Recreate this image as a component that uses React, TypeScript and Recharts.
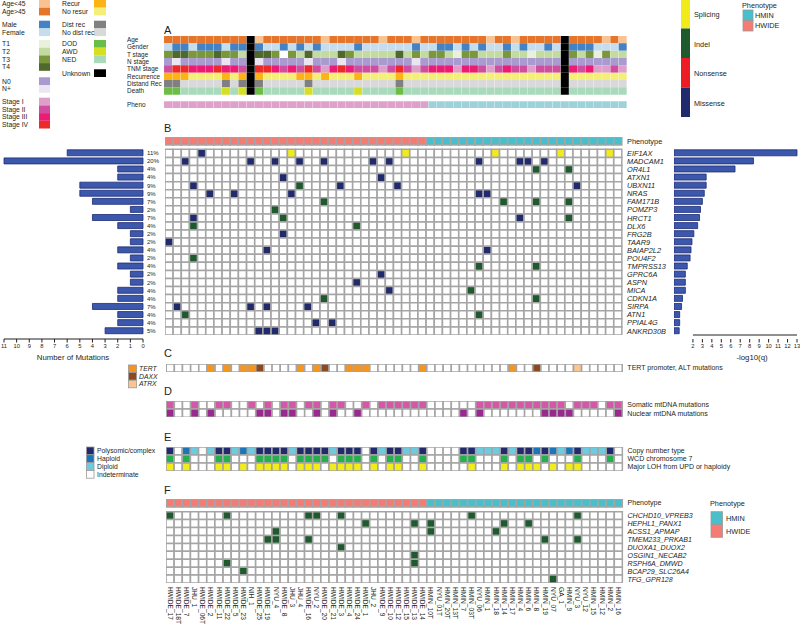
import React from 'react';
import { BarChart, Bar, Cell, XAxis, YAxis, ReferenceArea } from 'recharts';

const FONT = '"Liberation Sans", Arial, Helvetica, sans-serif';
const INK = '#231f20';
const GRID_STROKE = '#a5a5a5';
const BAR_FILL = '#3c58ad';
const BAR_EDGE = '#1e2b72';

// samples, left to right
const samples = [
  'HWIDE_17', 'HWIDE_18T', 'HWIDE_7', 'JHU_1', 'HWIDE_06T', 'HWIDE_2', 'HWIDE_11', 'HWIDE_22',
  'HWIDE_5', 'HWIDE_23', 'NIH_1', 'HWIDE_25', 'HWIDE_19', 'NYU_4', 'HWIDE_8', 'JHU_3',
  'JHU_4', 'HWIDE_16', 'NYU_2', 'HWIDE_20', 'HWIDE_21', 'HWIDE_3', 'HWIDE_4', 'HWIDE_24',
  'HWIDE_1', 'JHU_2', 'HWIDE_9', 'HWIDE_10', 'HWIDE_12', 'HWIDE_15', 'HWIDE_13', 'HWIDE_14',
  'HMIN_10T', 'NYU_01T', 'HMIN_20T', 'HMIN_13T', 'HMIN_7', 'HMIN_03T', 'NYU_06', 'HMIN_1',
  'HMIN_18', 'HMIN_14', 'HMIN_17', 'HMIN_4', 'HMIN_6', 'HMIN_8', 'HMIN_19', 'NYU_07',
  'GA_1', 'HMIN_9', 'NYU_3', 'NYU_12', 'HMIN_15', 'HMIN_12', 'HMIN_2', 'HMIN_16',
];

// panel A clinical tracks, one code per sample (groups of 8)
const ageCodes = ['oooooooo', 'ookyoooo', 'oooyoooo', 'ooyoooyo', 'oooooooy', 'ooyooooo', 'kooooyoy'].join('');
const genderCodes = ['fmmfmmmf', 'mmkmffmf', 'mfmffffm', 'ffffffmf', 'fmmfmfmf', 'fmfmffmf', 'kmmmfffm'].join('');
const tStageCodes = ['34433343', '32k443w3', '24222432', '22224232', '33213322', '23221222', 'k3231322'].join('');
const nStageCodes = ['abaaaaab', 'aakbaaaa', 'abaaabaa', 'aaaaaaba', 'aaaaaaaa', 'aaaaaaaa', 'kaaaaaaa'].join('');
const tnmCodes = ['24433343', '32k44323', '24213432', '22124212', '33313321', '23221222', 'k3231121'].join('');
const recurCodes = ['rrrnnnnr', 'nrkrnnnn', 'rrnrnnnr', 'nnnnrnnn', 'nnnnnnnn', 'nnnnnnnn', 'knnnnnnn'].join('');
const distCodes = ['ddnnnnnd', 'ndkdnnnn', 'ndnnnnnn', 'nnnndnnn', 'nnnnnnnn', 'nnnnnnnn', 'knnnnnnn'].join('');
const deathCodes = ['DDNNNNNA', 'NAkDNNNN', 'NANNNNNA', 'NNNNDNNN', 'NNNNNNNN', 'NNNNNNNN', 'kNNNNNNN'].join('');
const phenoCodes = ['WWWWWWWW', 'WWWWWWWW', 'WWWWWWWW', 'WWWWWWWW', 'MMMMMMMM', 'MMMMMMMM', 'MMMMMMMM'].join('');

// panel B
const genes = [
  'EIF1AX', 'MADCAM1', 'OR4L1', 'ATXN1', 'UBXN11', 'NRAS', 'FAM171B', 'POMZP3', 'HRCT1', 'DLX6',
  'FRG2B', 'TAAR9', 'BAIAP2L2', 'POU4F2', 'TMPRSS13', 'GPRC6A', 'ASPN', 'MICA', 'CDKN1A', 'SIRPA',
  'ATN1', 'PPIAL4G', 'ANKRD30B',
];
const geneCounts = [6, 11, 2, 2, 5, 5, 4, 1, 4, 2, 1, 1, 2, 1, 2, 1, 1, 2, 2, 4, 2, 2, 3];
const genePct = ['11%', '20%', '4%', '4%', '9%', '9%', '7%', '2%', '7%', '4%', '2%', '2%', '4%', '2%', '4%', '2%', '2%', '4%', '4%', '7%', '4%', '4%', '5%'];
const geneLogQ = [13, 8.4, 6.45, 3.4, 3.4, 3.2, 3.0, 2.8, 2.7, 2.5, 2.1, 1.9, 1.8, 1.7, 1.4, 1.2, 1.2, 1.2, 0.9, 0.8, 0.6, 0.6, 0.55];
// column + type (m missense, i indel, s splicing)
const geneHits = [
  '4m 15s 29s 40s 48s 54s',
  '2m 10m 13m 16m 19m 25m 27m 38m 43m 44m 46m',
  '45i 49i',
  '14m 26m',
  '3m 16i 21m 28m 50m',
  '5m 8m 15m 38m 39m',
  '19i 41i 45i 49i',
  '13i',
  '3m 14i 43m 49i',
  '3i 23i',
  '14m',
  '0m',
  '12m 39m',
  '3i',
  '38i 45i',
  '26m',
  '23m',
  '27m 37i',
  '19i 45i',
  '1m 10m 12m 17m',
  '2i 38i',
  '18m 20m',
  '11m 12m 13m',
];
const countTicks = [0, 1, 2, 3, 4, 5, 6, 7, 8, 9, 10, 11];
const qTicks = [2, 3, 4, 5, 6, 7, 8, 9, 10, 11, 12, 13];

// panel C
const tertHits = [5, 7, 9, 10, 16, 18, 22, 23, 24, 31, 42];
const daxxHits = [11, 19, 45];
const atrxHits = [50];

// panel D
const somaticHits = [0, 3, 6, 7, 10, 12, 14, 15, 17, 18, 20, 21, 24, 26, 27, 28, 29, 30, 31, 38, 39, 40, 41, 42, 43, 44, 45, 46, 47, 48, 50, 51, 52, 54, 55];
const nuclearHits = [0, 3, 5, 11, 12, 14, 15, 18, 20, 23, 36, 38, 46, 47, 48, 49, 55];

// panel E
const cnCodes = ['pwhdwdpp', 'dhdppppd', 'ppppdppp', 'wpdppddp', 'wwwwppdd', 'dpdpphph', 'dhpdddpw'].join('');
const wcdCodes = ['gwgwwwgg', 'wwwggggw', 'ggggwggg', 'wgwggwwg', 'wwwwggww', 'wgwggwgw', 'wwgwwwgw'].join('');
const lohCodes = ['ywywwwyy', 'wywyyyyw', 'yyywyyyy', 'wywyywwy', 'wwwwwyww', 'wywyyywy', 'wyywwwww'].join('');

// panel F
const fusions = [
  'CHCHD10_VPREB3', 'HEPHL1_PANX1', 'ACSS1_APMAP', 'TMEM233_PRKAB1', 'DUOXA1_DUOX2',
  'OSGIN1_NECAB2', 'RSPH6A_DMWD', 'BCAP29_SLC26A4', 'TFG_GPR128',
];
const fusionHits = [
  [0, 7, 17, 18, 21, 37, 50],
  [24, 30, 32, 41, 44],
  [13, 32, 40],
  [12, 13, 17, 46, 50],
  [21],
  [30],
  [7, 30],
  [9],
  [47],
];

const C = {
  ageY: '#f8c391', ageO: '#e4752b', male: '#4282c5', female: '#c6dcef',
  t1: '#e7f1db', t2: '#c3dba1', t3: '#7a973b', t4: '#4e692b',
  n0: '#a99bcf', nPlus: '#ebe5f2',
  s1: '#dea0cb', s2: '#cf4e9f', s3: '#ec1b73', s4: '#ed2a2a',
  recur: '#fcb415', noRecur: '#f3ef78', dist: '#808080', noDist: '#d9d9d9',
  dod: '#6bbd46', awd: '#d6df24', ned: '#a9dabb', unknown: '#000000',
  phW: '#dfa1cb', phM: '#9dd2db',
  hWide: '#f47c74', hMin: '#47c0cb',
  missense: '#202a6c', indel: '#1e5a2d', splicing: '#f2eb1c', nonsense: '#ec1c24',
  tert: '#f7941d', daxx: '#8e4a1c', atrx: '#fbc58f',
  somatic: '#d557a7', nuclear: '#9b2790',
  poly: '#202a6c', haploid: '#1b75bb', diploid: '#6dcbe0',
  wcd: '#22b14c', loh: '#f3ec19', fusion: '#1e5a2d',
};

const codeFills = (codes: string, pal: Record<string, string>) => codes.split('').map((k) => pal[k] || '#ffffff');
const listFills = (hits: number[], color: string) => samples.map((_, c) => (hits.includes(c) ? color : '#ffffff'));
const hitFills = (hits: string) => {
  const pal: Record<string, string> = { m: C.missense, i: C.indel, s: C.splicing, n: C.nonsense };
  const out = samples.map(() => '#ffffff');
  hits.split(' ').forEach((h) => { out[parseInt(h, 10)] = pal[h.slice(-1)]; });
  return out;
};

type GridRow = { size: number; fills?: string[]; border?: boolean; label?: string; italic?: boolean };

function GridChart({
  left, top, gridWidth, unit, rows, labelSide = 'right', labelWidth = 0, labelDx = 5, labelSize = 7.5, xLabelHeight = 0,
}: {
  left: number; top: number; gridWidth: number; unit: number; rows: GridRow[];
  labelSide?: 'left' | 'right'; labelWidth?: number; labelDx?: number; labelSize?: number; xLabelHeight?: number;
}) {
  const total = rows.reduce((s, r) => s + r.size, 0);
  const data = samples.map((name) => {
    const d: any = { name };
    rows.forEach((r, i) => { d['r' + i] = r.size; });
    return d;
  });
  const labeled: { at: number; text: string; italic?: boolean }[] = [];
  let acc = 0;
  rows.forEach((r) => {
    if (r.label) labeled.push({ at: acc + r.size / 2, text: r.label, italic: r.italic });
    acc += r.size;
  });
  const hasLabels = labeled.length > 0;
  const width = gridWidth + (hasLabels ? labelWidth : 0);
  const height = total * unit + xLabelHeight;
  const divLeft = hasLabels && labelSide === 'left' ? left - labelWidth : left;

  return (
    <div style={{ position: 'absolute', left: divLeft, top }}>
      <BarChart width={width} height={height} data={data} margin={{ top: 0, right: 0, bottom: 0, left: 0 }} barCategoryGap={0} barGap={0}>
        <XAxis
          dataKey="name" type="category" hide={!xLabelHeight} height={xLabelHeight || 1} interval={0}
          axisLine={false} tickLine={false} tickSize={0} tickMargin={0}
          tick={(p: any) => (
            <text key={p.index} x={p.x} y={p.y + 4} transform={`rotate(90 ${p.x} ${p.y + 4})`} textAnchor="start"
              dominantBaseline="central" fontSize={6.6} fill={INK} fontFamily={FONT}>{p.payload.value}</text>
          )}
        />
        <YAxis
          type="number" domain={[0, total]} reversed hide={!hasLabels} orientation={labelSide} width={labelWidth}
          ticks={labeled.map((l) => l.at)} interval={0} axisLine={false} tickLine={false} tickSize={0} tickMargin={0}
          allowDataOverflow
          tick={(p: any) => {
            const l = labeled[p.index];
            if (!l) return <g key={p.index} />;
            return (
              <text key={p.index} x={p.x + labelDx} y={p.y} dy="0.35em" textAnchor="start" fontSize={labelSize}
                fontStyle={l.italic ? 'italic' : 'normal'} fill={INK} fontFamily={FONT}>{l.text}</text>
            );
          }}
        />
        {rows.map((r, i) => (
          <Bar key={i} dataKey={'r' + i} stackId="g" isAnimationActive={false}
            stroke={r.border && r.fills ? GRID_STROKE : 'none'} strokeWidth={1.5}>
            {samples.map((s, c) => <Cell key={s} fill={r.fills ? r.fills[c] : 'transparent'} />)}
          </Bar>
        ))}
      </BarChart>
    </div>
  );
}

const geneData = genes.map((g, i) => ({ gene: g, count: geneCounts[i], q: geneLogQ[i] }));

function Overlay() {
  const txt = (x: number, y: number, s: string, size = 7, extra: any = {}) => (
    <text key={s + x + y} x={x} y={y} dy="0.35em" fontSize={size} fill={INK} fontFamily={FONT} {...extra}>{s}</text>
  );
  const sw = (x: number, y: number, w: number, h: number, fill: string, stroke = 'none') => (
    <rect key={'sw' + x + y + fill} x={x} y={y} width={w} height={h} fill={fill} stroke={stroke} strokeWidth={0.8} />
  );
  const leftGroups: [string, string][][] = [
    [['Age<45', C.ageY], ['Age>45', C.ageO]],
    [['Male', C.male], ['Female', C.female]],
    [['T1', C.t1], ['T2', C.t2], ['T3', C.t3], ['T4', C.t4]],
    [['N0', C.n0], ['N+', C.nPlus]],
    [['Stage I', C.s1], ['Stage II', C.s2], ['Stage III', C.s3], ['Stage IV', C.s4]],
  ];
  const leftTops = [0, 20.7, 40, 77.3, 97.7];
  const rightGroups: [string, string][][] = [
    [['Recur', C.recur], ['No resur', C.noRecur]],
    [['Dist rec', C.dist], ['No dist rec', C.noDist]],
    [['DOD', C.dod], ['AWD', C.awd], ['NED', C.ned]],
    [['Unknown', C.unknown]],
  ];
  const rightTops = [0, 20.7, 40, 69.3];
  const items: React.ReactNode[] = [];
  leftGroups.forEach((g, gi) => g.forEach(([l, col], k) => {
    const y = leftTops[gi] + k * 7.7;
    items.push(sw(39, y, 11, 7.7, col));
    items.push(txt(2, y + 3.9, l, 6.8));
  }));
  rightGroups.forEach((g, gi) => g.forEach(([l, col], k) => {
    const y = rightTops[gi] + k * 7.7;
    items.push(sw(94, y, 12, 7.7, col));
    items.push(txt(62, y + 3.9, l, 6.8));
  }));
  const mutLegend: [string, string][] = [['Splicing', C.splicing], ['Indel', C.indel], ['Nonsense', C.nonsense], ['Missense', C.missense]];
  mutLegend.forEach(([l, col], k) => {
    items.push(sw(681, k * 29.5 - 1, 9, 29.5, col));
    items.push(txt(694, k * 29.5 + 14.5, l, 7.3));
  });
  return (
    <svg width={800} height={627} style={{ position: 'absolute', left: 0, top: 0 }}>
      {items}
      {/* phenotype legend top right */}
      {txt(742, 5, 'Phenotype', 7.3)}
      {sw(743, 10, 10, 10.5, C.hMin, '#999')}
      {sw(743, 20.5, 10, 10.5, C.hWide, '#999')}
      {txt(755, 15.3, 'HMIN', 7.3)}
      {txt(755, 25.8, 'HWIDE', 7.3)}
      {/* panel letters */}
      {txt(164, 30, 'A', 11)}
      {txt(164, 128, 'B', 11)}
      {txt(164, 353, 'C', 11)}
      {txt(164, 391, 'D', 11)}
      {txt(164, 437, 'E', 11)}
      {txt(164, 490, 'F', 11)}
      {/* axis titles */}
      {txt(73, 357, 'Number of Mutations', 7.8, { textAnchor: 'middle' })}
      {txt(752, 357, '-log10(q)', 7.8, { textAnchor: 'middle' })}
      {/* panel C legend */}
      {sw(128.5, 365, 8, 7.6, C.tert, '#999')}
      {sw(128.5, 372.6, 8, 7.6, C.daxx, '#999')}
      {sw(128.5, 380.2, 8, 7.6, C.atrx, '#999')}
      {txt(139, 368.8, 'TERT', 6.8, { fontStyle: 'italic' })}
      {txt(139, 376.4, 'DAXX', 6.8, { fontStyle: 'italic' })}
      {txt(139, 384, 'ATRX', 6.8, { fontStyle: 'italic' })}
      {/* panel E legend */}
      {sw(86.5, 447, 7.5, 7.8, C.poly, '#999')}
      {sw(86.5, 454.8, 7.5, 7.8, C.haploid, '#999')}
      {sw(86.5, 462.6, 7.5, 7.8, C.diploid, '#999')}
      {sw(86.5, 470.4, 7.5, 7.8, '#ffffff', '#999')}
      {txt(97, 451, 'Polysomic/complex', 6.8)}
      {txt(97, 458.8, 'Haploid', 6.8)}
      {txt(97, 466.6, 'Diploid', 6.8)}
      {txt(97, 474.4, 'Indeterminate', 6.8)}
      {/* panel F legend */}
      {txt(710, 503, 'Phenotype', 7.3)}
      {sw(711, 511.7, 11.5, 12.8, C.hMin, '#999')}
      {sw(711, 524.5, 11.5, 12.8, C.hWide, '#999')}
      {txt(726, 518.5, 'HMIN', 7.3)}
      {txt(726, 531.5, 'HWIDE', 7.3)}
    </svg>
  );
}

export default function App() {
  const phHeader = codeFills(phenoCodes, { W: C.hWide, M: C.hMin });

  const rowsA: GridRow[] = [
    { size: 1, label: 'Age', fills: codeFills(ageCodes, { o: C.ageO, y: C.ageY, k: C.unknown }) },
    { size: 1, label: 'Gender', fills: codeFills(genderCodes, { m: C.male, f: C.female, k: C.unknown }) },
    { size: 1, label: 'T stage', fills: codeFills(tStageCodes, { '1': C.t1, '2': C.t2, '3': C.t3, '4': C.t4, k: C.unknown }) },
    { size: 1, label: 'N stage', fills: codeFills(nStageCodes, { a: C.n0, b: C.nPlus, k: C.unknown }) },
    { size: 1, label: 'TNM stage', fills: codeFills(tnmCodes, { '1': C.s1, '2': C.s2, '3': C.s3, '4': C.s4, k: C.unknown }) },
    { size: 1, label: 'Recurrence', fills: codeFills(recurCodes, { r: C.recur, n: C.noRecur, k: C.unknown }) },
    { size: 1, label: 'Distand Rec', fills: codeFills(distCodes, { d: C.dist, n: C.noDist, k: C.unknown }) },
    { size: 1, label: 'Death', fills: codeFills(deathCodes, { D: C.dod, A: C.awd, N: C.ned, k: C.unknown }) },
    { size: 0.91 },
    { size: 1, label: 'Pheno', fills: codeFills(phenoCodes, { W: C.phW, M: C.phM }) },
  ];

  const rowsB: GridRow[] = [
    { size: 1, border: true, fills: phHeader, label: 'Phenotype' },
    { size: 0.53 },
    ...genes.map((g, i) => ({ size: 1, border: true, fills: hitFills(geneHits[i]), label: g, italic: true })),
  ];

  const rowsC: GridRow[] = [
    {
      size: 1, border: true, label: 'TERT promoter, ALT mutations',
      fills: samples.map((_, c) => (tertHits.includes(c) ? C.tert : daxxHits.includes(c) ? C.daxx : atrxHits.includes(c) ? C.atrx : '#ffffff')),
    },
  ];
  const rowsD: GridRow[] = [
    { size: 1, border: true, label: 'Somatic mtDNA mutations', fills: listFills(somaticHits, C.somatic) },
    { size: 1, border: true, label: 'Nuclear mtDNA mutations', fills: listFills(nuclearHits, C.nuclear) },
  ];
  const rowsE: GridRow[] = [
    { size: 1, border: true, label: 'Copy number type', fills: codeFills(cnCodes, { p: C.poly, h: C.haploid, d: C.diploid }) },
    { size: 1, border: true, label: 'WCD chromosome 7', fills: codeFills(wcdCodes, { g: C.wcd }) },
    { size: 1, border: true, label: 'Major LOH from UPD or haploidy', fills: codeFills(lohCodes, { y: C.loh }) },
  ];
  const rowsF: GridRow[] = [
    { size: 1.01, border: true, fills: phHeader, label: 'Phenotype' },
    { size: 0.59 },
    ...fusions.map((f, i) => ({ size: 1, border: true, fills: listFills(fusionHits[i], C.fusion), label: f, italic: true })),
  ];

  return (
    <div style={{ position: 'absolute', left: 0, top: 0, width: 800, height: 627, background: '#ffffff', overflow: 'hidden', fontFamily: FONT }}>
      <Overlay />

      <GridChart left={164} top={35.7} gridWidth={463} unit={7.33} rows={rowsA} labelSide="left" labelWidth={37} labelDx={-37} labelSize={6.4} />
      <GridChart left={165} top={137} gridWidth={457} unit={8.07} rows={rowsB} labelWidth={55} labelDx={5} labelSize={7.4} />
      <GridChart left={165.5} top={364} gridWidth={456.5} unit={8.1} rows={rowsC} labelWidth={150} labelDx={5} labelSize={7} />
      <GridChart left={165.5} top={401} gridWidth={456.5} unit={8.1} rows={rowsD} labelWidth={150} labelDx={5} labelSize={7} />
      <GridChart left={165.5} top={447} gridWidth={456.5} unit={8.0} rows={rowsE} labelWidth={150} labelDx={5} labelSize={7} />
      <GridChart left={165.5} top={499} gridWidth={456.5} unit={7.93} rows={rowsF} labelWidth={80} labelDx={5} labelSize={7.1} xLabelHeight={42} />

      {/* left: number of mutations */}
      <div style={{ position: 'absolute', left: 0, top: 149.3 }}>
        <BarChart layout="vertical" width={163} height={210} data={geneData} margin={{ top: 0, right: 0, bottom: 0, left: 4 }} barCategoryGap="10%">
          <XAxis type="number" domain={[0, 11]} reversed ticks={countTicks} interval={0} height={20}
            tickSize={3.5} tickMargin={1} stroke={INK} tick={{ fontSize: 5.8, fill: INK, fontFamily: FONT }} />
          <YAxis type="category" dataKey="gene" orientation="right" width={20} padding={{ top: 0, bottom: 4 }}
            axisLine={false} tickLine={false} tickSize={0} tickMargin={4} interval={0}
            tickFormatter={(_v: any, i: number) => genePct[i]} tick={{ fontSize: 6, fill: INK, fontFamily: FONT }} />
          <Bar dataKey="count" fill={BAR_FILL} stroke={BAR_EDGE} strokeWidth={0.8} isAnimationActive={false} />
        </BarChart>
      </div>

      {/* right: -log10(q) */}
      <div style={{ position: 'absolute', left: 674, top: 149.3 }}>
        <BarChart layout="vertical" width={126} height={210} data={geneData} margin={{ top: 0, right: 3, bottom: 0, left: 0 }} barCategoryGap="10%">
          <XAxis type="number" domain={[0, 13]} ticks={qTicks} interval={0} height={20} axisLine={false}
            tickSize={3.5} tickMargin={1} stroke={INK} tick={{ fontSize: 5.8, fill: INK, fontFamily: FONT }} />
          <YAxis type="category" dataKey="gene" hide padding={{ top: 0, bottom: 4 }} />
          <ReferenceArea x1={2} x2={13} ifOverflow="visible" fill="none" stroke="none"
            shape={(p: any) => (
              <line x1={p.x} x2={p.x + p.width} y1={p.y + p.height} y2={p.y + p.height} stroke={INK} strokeWidth={1} />
            )} />
          <Bar dataKey="q" fill={BAR_FILL} stroke={BAR_EDGE} strokeWidth={0.8} isAnimationActive={false} />
        </BarChart>
      </div>
    </div>
  );
}
